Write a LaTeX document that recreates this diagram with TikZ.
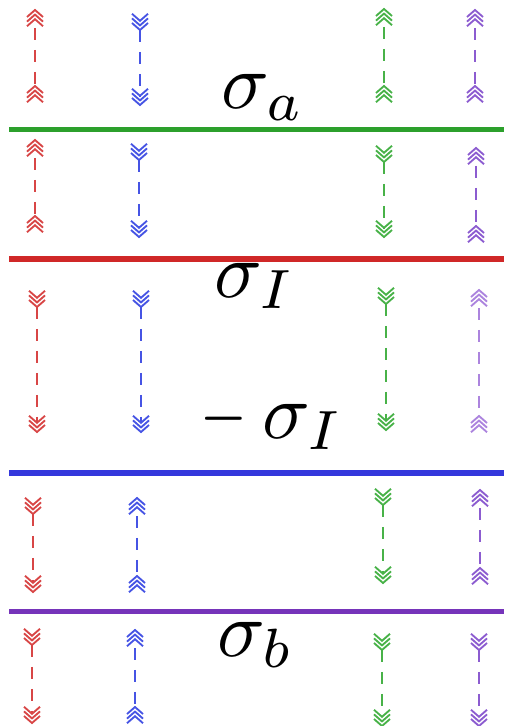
\documentclass[tikz,border=0pt]{standalone}
\usetikzlibrary{calc}
\definecolor{lgreen}{RGB}{44,160,44}
\definecolor{lred}{RGB}{208,40,40}
\definecolor{lblue}{RGB}{52,56,220}
\definecolor{lpurple}{RGB}{118,52,186}
\definecolor{ared}{RGB}{216,70,70}
\definecolor{ablue}{RGB}{70,84,228}
\definecolor{agreen}{RGB}{72,178,72}
\definecolor{apurple}{RGB}{140,92,208}
\definecolor{apurplel}{RGB}{172,132,222}
\tikzset{
  chev/.pic={\foreach \k in {0,1,2}{\draw[line width=1.05pt,line join=miter] (-8,7+4.6*\k) -- (0,4.6*\k) -- (8,7+4.6*\k);}},
  dashline/.style={line width=0.9pt,dash pattern=on 7pt off 5.5pt},
  sheet/.style={line width=3.4pt},
  lab/.style={inner sep=0pt,anchor=base west,scale=4.5}
}
\newcommand\uparr[5]{%
  \coordinate (#1-a) at (#2,#3);
  \coordinate (#1-b) at (#2,#4-17);
  \pic[#5] at (#1-a) {chev};
  \pic[#5] at (#1-b) {chev};
  \draw[#5,dashline] ($(#1-a)+(0,18)$) -- (#1-b);
}
\newcommand\downarr[5]{%
  \coordinate (#1-a) at (#2,#3+17);
  \coordinate (#1-b) at (#2,#4);
  \pic[#5,rotate=180] at (#1-a) {chev};
  \pic[#5,rotate=180] at (#1-b) {chev};
  \draw[#5,dashline] (#1-a) -- ($(#1-b)+(0,-9)$);
}
\begin{document}
\begin{tikzpicture}[x=0.02cm,y=-0.02cm]
\useasboundingbox (0,0) rectangle (504,726);
% sheets
\coordinate (ga) at (9,129.5); \coordinate (gb) at (504,129.5);
\coordinate (ra) at (9,259); \coordinate (rb) at (504,259);
\coordinate (ba) at (9,473); \coordinate (bb) at (504,473);
\coordinate (pa) at (9,611.5); \coordinate (pb) at (504,611.5);
\draw[sheet,lgreen] (ga) -- (gb);
\draw[sheet,lred] (ra) -- (rb);
\draw[sheet,lblue] (ba) -- (bb);
\draw[sheet,lpurple] (pa) -- (pb);
% labels
\node[lab] (la) at (220,109) {$\sigma_a$};
\node[lab] (lI) at (213,297) {$\sigma_I$};
\node[lab] (lmI) at (199,438) {$\scalebox{0.76}[1]{$-$}\mkern3.4mu\sigma_I$};
\node[lab] (lb) at (216,656) {$\sigma_b$};
% section 1
\uparr{r1}{35}{10}{103}{ared}
\downarr{b1}{140}{13}{105}{ablue}
\uparr{g1}{384}{9}{103}{agreen}
\uparr{p1}{475}{10}{103}{apurple}
% section 2
\uparr{r2}{35}{140}{233}{ared}
\downarr{b2}{139}{143}{237}{ablue}
\downarr{g2}{384}{145}{237}{agreen}
\uparr{p2}{476}{148}{243}{apurple}
% section 3
\downarr{r3}{37}{290}{432}{ared}
\downarr{b3}{141}{290}{432}{ablue}
\downarr{g3}{386}{287}{430}{agreen}
\uparr{p3}{479}{290}{433}{apurplel}
% section 4
\downarr{r4}{33}{497}{592}{ared}
\uparr{b4}{137}{498}{593}{ablue}
\downarr{g4}{383}{488}{583}{agreen}
\uparr{p4}{480}{490}{585}{apurple}
% section 5
\downarr{r5}{32}{628}{723}{ared}
\uparr{b5}{135}{630}{724}{ablue}
\downarr{g5}{382}{633}{726}{agreen}
\downarr{p5}{479}{633}{726}{apurple}
\end{tikzpicture}
\end{document}
